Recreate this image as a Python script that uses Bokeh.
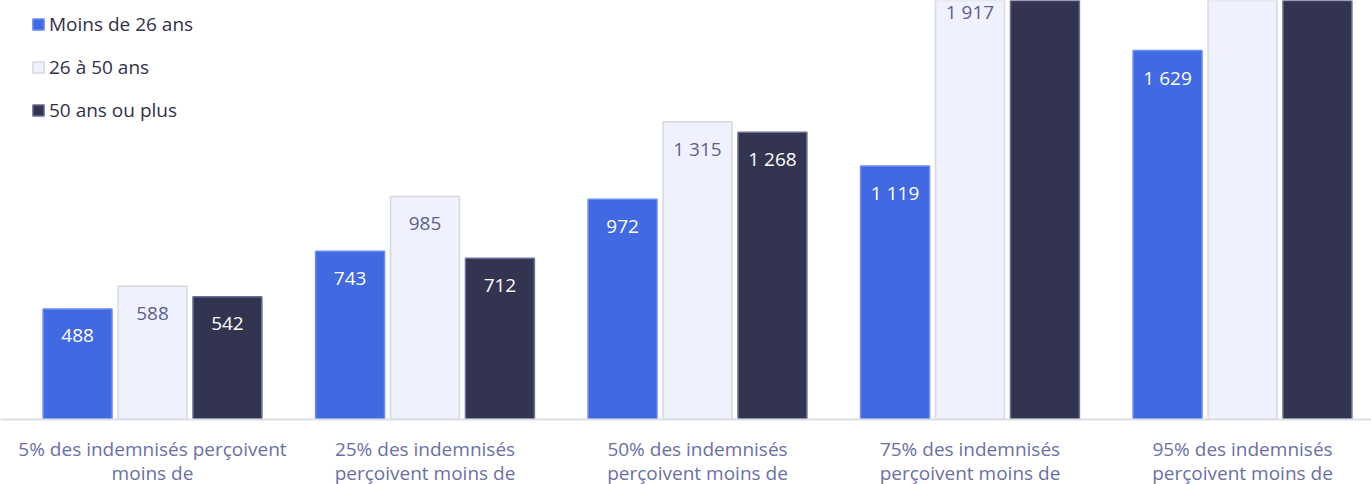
from bokeh.plotting import figure
from bokeh.models import ColumnDataSource, Range1d, FixedTicker, Legend, LegendItem
from bokeh.core.properties import value
from bokeh.embed import file_html
from bokeh.resources import INLINE

categories = [
    "5% des indemnisés perçoivent\nmoins de",
    "25% des indemnisés\nperçoivent moins de",
    "50% des indemnisés\nperçoivent moins de",
    "75% des indemnisés\nperçoivent moins de",
    "95% des indemnisés\nperçoivent moins de",
]
series_names = ["Moins de 26 ans", "26 à 50 ans", "50 ans ou plus"]
moins_26 = [488, 743, 972, 1119, 1629]
de_26_a_50 = [588, 985, 1315, 1917, 2930]
plus_50 = [542, 712, 1268, 2080, 3380]

fills = ["#4169e1", "#eff2fe", "#33344f"]
borders = ["#6a8cf5", "#d6d8de", "#6c6f9c"]
label_colors = ["#ffffff", "#5b5f8f", "#ffffff"]
offsets = [-0.275, 0.0, 0.275]
bar_w = 0.253

FONT = "Open Sans"
W, H = 1371, 484
FRAME_H = 419
Y_END = 1850

p = figure(width=W, height=H, output_backend="svg", toolbar_location=None,
           frame_width=W, frame_height=FRAME_H,
           x_range=Range1d(-0.5578, 4.4734), y_range=Range1d(0, Y_END),
           y_axis_location=None, min_border_left=0, min_border_right=0,
           min_border_top=0, min_border_bottom=H - FRAME_H)
p.outline_line_color = None
p.xgrid.visible = False
p.ygrid.visible = False
p.background_fill_color = "white"
p.border_fill_color = "white"

items = []
for k, vals in enumerate([moins_26, de_26_a_50, plus_50]):
    xs = [i + offsets[k] for i in range(len(categories))]
    src = ColumnDataSource(dict(x=xs, top=vals))
    r = p.vbar(x="x", top="top", width=bar_w, bottom=0, source=src,
               fill_color=fills[k], line_color=borders[k], line_width=1.5)
    # labels only for bars whose label falls inside the visible area
    vis = [(x, v) for x, v in zip(xs, vals) if v < Y_END * 1.1]
    lsrc = ColumnDataSource(dict(x=[a for a, _ in vis], top=[b for _, b in vis],
                                 lab=[f"{b:,}".replace(",", " ") for _, b in vis]))
    p.text(x="x", y="top", text="lab", source=lsrc, text_align="center",
           text_baseline="middle", y_offset=27, text_color=label_colors[k],
           text_font=value(FONT), text_font_size="19px")
    items.append(LegendItem(label=series_names[k], renderers=[r]))

legend = Legend(items=items, location=(31, 296), orientation="vertical",
                glyph_width=14, glyph_height=14, label_height=22, spacing=17,
                padding=0, margin=0, label_standoff=4,
                label_text_font=FONT, label_text_font_size="19px",
                label_text_color="#2f3148", background_fill_alpha=0,
                border_line_alpha=0)
p.add_layout(legend)

ax = p.xaxis[0]
ax.ticker = FixedTicker(ticks=list(range(len(categories))))
ax.major_label_overrides = {i: c for i, c in enumerate(categories)}
ax.major_tick_line_color = None
ax.minor_tick_line_color = None
ax.axis_line_color = "#dcdee6"
ax.axis_line_width = 2
ax.major_label_standoff = 10
ax.major_label_text_font = FONT
ax.major_label_text_font_size = "19px"
ax.major_label_text_color = "#6a70a6"
ax.major_label_text_line_height = 0.96

open("out.html", "w").write(file_html(p, INLINE))
